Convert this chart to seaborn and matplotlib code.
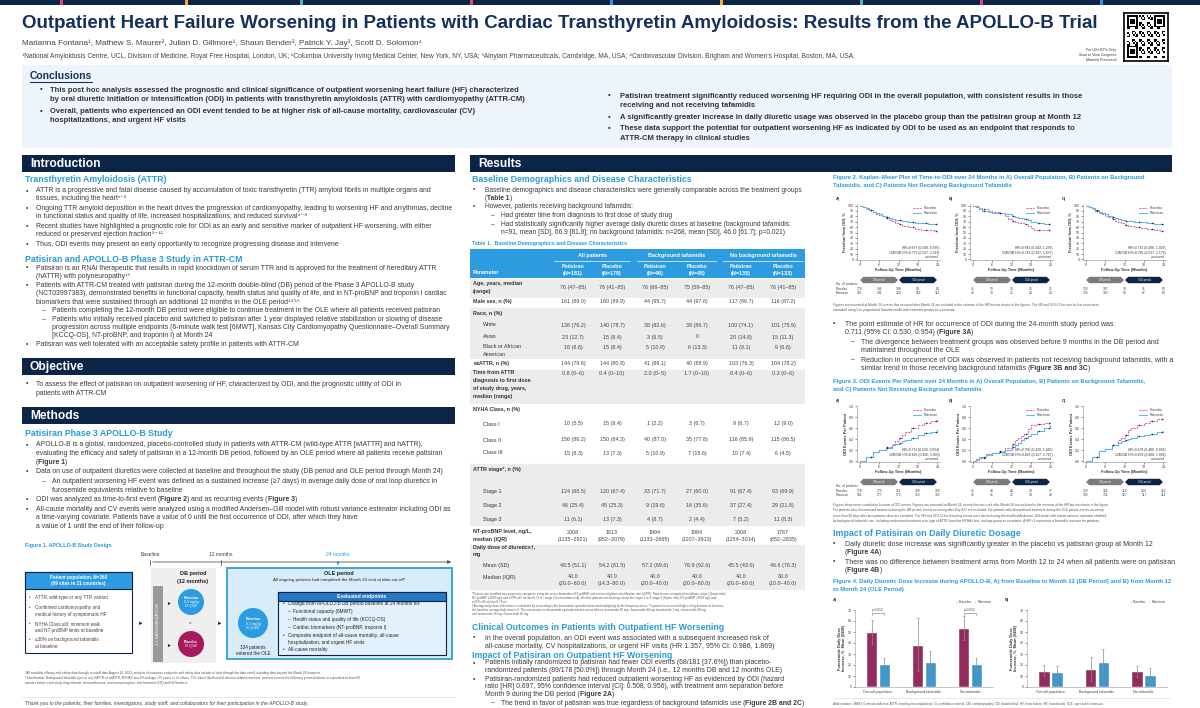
import numpy as np
import pandas as pd
import seaborn as sns
import matplotlib.pyplot as plt
from matplotlib.patches import Rectangle, Circle, Polygon
from matplotlib.lines import Line2D

sns.set_theme(style="white")
plt.rcParams['font.family'] = ['Liberation Sans', 'DejaVu Sans']

# ---------------- DATA ----------------
arms = ["Placebo", "Patisiran"]
months = [0, 6, 12, 18, 24]

# Figure 2: Kaplan-Meier, freedom from ODI (%)
km_a_t = [0, 1, 2, 3, 4, 5, 6, 7, 8, 9, 10, 11, 12, 13, 15, 17, 19, 21, 23, 24]
km_a_plc = [100, 97, 94, 91, 88, 85, 83, 80, 77, 74, 71, 68, 65, 63, 60, 57, 55, 54, 53, 53]
km_a_pat = [100, 98, 95, 92, 89, 86, 84, 81, 79, 77, 75, 74, 73, 72, 70, 68, 67, 66, 65, 65]
km_b_plc_t = [0, 1, 2, 3, 5, 6, 8, 9, 10, 11, 12, 13, 14, 16, 17, 18, 19, 21, 24]
km_b_plc = [100, 100, 95, 93, 90, 88, 87, 86, 80, 76, 72, 70, 67, 65, 62, 58, 55, 55, 55]
km_b_pat_t = [0, 1, 2, 3, 5, 6, 8, 10, 12, 13, 14, 16, 17, 18, 20, 22, 24]
km_b_pat = [100, 97, 93, 90, 88, 87, 86, 85, 80, 78, 77, 75, 73, 70, 68, 66, 65]
km_c_plc = [100, 97, 93, 90, 87, 84, 81, 78, 75, 72, 69, 67, 64, 62, 60, 58, 56, 54, 53, 52]
km_c_pat = [100, 98, 95, 92, 89, 86, 84, 81, 79, 77, 75, 73, 72, 71, 70, 69, 68, 66, 65, 65]
km_censor = [3.5, 8.5, 12.5, 16.5, 20.5, 23.5]
km_risk_a = [[178, 146, 108, 94, 84], [181, 141, 128, 119, 111]]
km_risk_b = [[45, 39, 30, 25, 21], [46, 39, 35, 32, 28]]
km_risk_c = [[133, 107, 78, 71, 63], [135, 102, 93, 87, 83]]
km_hr = [["HR=0.697 (0.508, 0.956)", "12M DB HR=0.772 (0.527, 1.113)"],
         ["HR=0.843 (0.343, 1.258)", "12M DB HR=0.742 (0.337, 1.637)"],
         ["HR=0.733 (0.496, 1.023)", "12M DB HR=0.795 (0.517, 1.179)"]]

# Figure 3: mean cumulative ODI events per patient
mcf_t = [0, 2, 4, 6, 8, 10, 11, 12, 13, 14, 16, 18, 20, 22, 24]
mcf_a_plc = [0, 0.08, 0.17, 0.21, 0.26, 0.32, 0.36, 0.42, 0.48, 0.53, 0.60, 0.65, 0.69, 0.73, 0.76]
mcf_a_pat = [0, 0.08, 0.17, 0.21, 0.25, 0.29, 0.31, 0.33, 0.36, 0.39, 0.43, 0.47, 0.51, 0.54, 0.57]
mcf_b_t = [0, 1, 2, 4, 6, 8, 10, 12, 13, 14, 15, 16, 17, 18, 20, 22, 24]
mcf_b_plc = [0, 0.03, 0.06, 0.12, 0.15, 0.18, 0.25, 0.32, 0.38, 0.42, 0.45, 0.50, 0.58, 0.66, 0.68, 0.70, 0.72]
mcf_b_pat = [0, 0.05, 0.08, 0.13, 0.15, 0.17, 0.21, 0.26, 0.30, 0.33, 0.38, 0.42, 0.45, 0.50, 0.55, 0.60, 0.65]
mcf_c_plc = [0, 0.08, 0.18, 0.23, 0.30, 0.38, 0.42, 0.48, 0.56, 0.60, 0.66, 0.70, 0.73, 0.76, 0.78]
mcf_c_pat = [0, 0.08, 0.18, 0.23, 0.29, 0.34, 0.36, 0.38, 0.40, 0.42, 0.45, 0.48, 0.50, 0.53, 0.55]
mcf_risk_a = [[178, 170, 161, 158, 150], [181, 177, 172, 163, 155]]
mcf_risk_b = [[45, 43, 42, 38, 37], [46, 46, 45, 44, 43]]
mcf_risk_c = [[133, 126, 120, 120, 113], [135, 131, 127, 117, 114]]
mcf_hr = [["HR=0.711 (0.530, 0.954)", "12M DB HR=0.666 (0.456, 1.003)"],
          ["HR=0.756 (0.420, 1.465)", "12M DB HR=0.822 (0.327, 1.767)"],
          ["HR=0.679 (0.480, 0.936)", "12M DB HR=0.603 (0.408, 1.004)"]]

# Figure 4: furosemide daily dose increase, %, mean (SEM)
dose_groups = ["Overall population", "Background tafamidis", "No tafamidis"]
dose_a_plc = [50, 38.5, 54]
dose_a_plc_sem = [11, 24, 11]
dose_a_pat = [21, 23, 20.5]
dose_a_pat_sem = [5, 10, 6]
dose_b_plc = [15, 16.5, 14.5]
dose_b_plc_sem = [5, 11, 5]
dose_b_pat = [14, 22.5, 11]
dose_b_pat_sem = [5.5, 12, 6]
p_text = "p=0.012"

# Table 1
tab_groups = ["All patients", "Background tafamidis", "No background tafamadis"]
tab_cols = ["Patisiran\n(N=181)", "Placebo\n(N=178)", "Patisiran\n(N=46)", "Placebo\n(N=45)",
            "Patisiran\n(N=135)", "Placebo\n(N=133)"]
tab_labels = ["Age, years, median\n(range)", "Male sex, n (%)", "Race, n (%)", "White", "Asian",
              "Black or African\nAmerican", "wtATTR, n (%)",
              "Time from ATTR\ndiagnosis to first dose\nof study drug, years,\nmedian (range)",
              "NYHA Class, n (%)", "Class I", "Class II", "Class III", "ATTR stage*, n (%)",
              "Stage 1", "Stage 2", "Stage 3", "NT-proBNP level, ng/L,\nmedian (IQR)",
              "Daily dose of diuretics\u2020,\nmg", "Mean (SD)", "Median (IQR)"]
tab_pat_all = ["76 (47\u201385)", "161 (89.0)", "", "138 (76.2)", "23 (12.7)", "16 (8.8)", "144 (79.6)",
               "0.8 (0\u20136)", "", "10 (5.5)", "156 (86.2)", "15 (8.3)", "", "124 (68.5)", "46 (25.4)",
               "11 (6.1)", "2008\n(1135\u20132921)", "", "48.5 (51.1)", "40.0\n(20.0\u201380.0)"]
tab_plc_all = ["76 (41\u201385)", "160 (89.9)", "", "140 (78.7)", "15 (8.4)", "15 (8.4)", "144 (80.9)",
               "0.4 (0\u201310)", "", "15 (8.4)", "150 (84.3)", "13 (7.3)", "", "120 (67.4)", "45 (25.3)",
               "13 (7.3)", "1813\n(952\u20133079)", "", "54.2 (81.5)", "40.0\n(14.3\u201380.0)"]
tab_pat_taf = ["76 (66\u201385)", "44 (95.7)", "", "38 (82.6)", "3 (6.5)", "5 (10.9)", "41 (89.1)",
               "2.0 (0\u20135)", "", "1 (2.2)", "40 (87.0)", "5 (10.9)", "", "33 (71.7)", "9 (19.6)",
               "4 (8.7)", "1994\n(1133\u20132665)", "", "57.2 (69.6)", "40.0\n(20.0\u201340.0)"]
tab_plc_taf = ["75 (59\u201385)", "44 (97.8)", "", "39 (86.7)", "0", "6 (13.3)", "40 (88.9)",
               "1.7 (0\u201310)", "", "3 (6.7)", "35 (77.8)", "7 (15.6)", "", "27 (60.0)", "16 (35.6)",
               "2 (4.4)", "1964\n(1107\u20133913)", "", "76.9 (92.6)", "40.0\n(20.0\u201380.0)"]
tab_pat_no = ["76 (47\u201385)", "117 (86.7)", "", "100 (74.1)", "20 (14.8)", "11 (8.1)", "103 (76.3)",
              "0.4 (0\u20136)", "", "9 (6.7)", "116 (85.9)", "10 (7.4)", "", "91 (67.4)", "37 (27.4)",
              "7 (5.2)", "2008\n(1154\u20133014)", "", "45.5 (43.0)", "40.0\n(20.0\u201380.0)"]
tab_plc_no = ["76 (41\u201385)", "116 (87.2)", "", "101 (75.9)", "15 (11.3)", "9 (6.8)", "104 (78.2)",
              "0.3 (0\u20136)", "", "12 (9.0)", "115 (86.5)", "6 (4.5)", "", "93 (69.9)", "29 (21.8)",
              "11 (8.3)", "1767\n(852\u20132835)", "", "46.6 (76.3)", "30.0\n(10.0\u201340.0)"]

# ---------------- STYLE ----------------
W, H = 1200, 708
NAVY = "#0c2546"
TITLE = "#15305b"
BLUE = "#2a9ad6"
BODY = "#3b3b3b"
C_PLC = "#a6195c"
C_PAT = "#2c9be0"
K_PLC = "#e36a9e"
K_PAT = "#62b8e6"
CENS = "#1c2b52"
GREY_ROW = "#ececec"

fig = plt.figure(figsize=(12, 7.08), dpi=100)
bg = fig.add_axes([0, 0, 1, 1])
bg.set_xlim(0, W)
bg.set_ylim(H, 0)
bg.axis('off')
R = fig.canvas.get_renderer()


def text_w(s, size, weight='normal'):
    t = bg.text(0, 0, s, fontsize=size, fontweight=weight)
    w = t.get_window_extent(R).width
    t.remove()
    return w


def T(x, y, s, size, color=BODY, weight='normal', ha='left', va='center', **kw):
    # "**...**" marks bold runs inside a left-aligned line
    if '**' in s:
        xc = x
        for i, part in enumerate(s.split('**')):
            if not part:
                continue
            wt = 'bold' if i % 2 else weight
            bg.text(xc, y, part, fontsize=size, color=color, fontweight=wt, ha='left', va=va, **kw)
            xc += text_w(part, size, wt)
        return None
    return bg.text(x, y, s, fontsize=size, color=color, fontweight=weight, ha=ha, va=va, **kw)


def fit(s, width, weight='normal'):
    return 10 * width / text_w(s, 10, weight)


def rect(x0, y0, x1, y1, fc, ec='none', lw=0, z=0.5):
    bg.add_patch(Rectangle((x0, y0), x1 - x0, y1 - y0, fc=fc, ec=ec, lw=lw, zorder=z))


def block(xb, xt, y, items, size, lh, gap, color=BODY, weight='normal'):
    for kind, lines in items:
        for i, ln in enumerate(lines):
            if kind == '\u2022':
                if i == 0:
                    T(xb, y, '\u2022', size, color, weight)
                T(xt, y, ln, size, color, weight)
            else:
                if i == 0:
                    T(xt + 6, y, '\u2013', size, color, weight)
                T(xt + 16, y, ln, size, color, weight)
            y += lh
        y += gap
    return y


def header_bar(x0, x1, y0, y1, label, size):
    rect(x0, y0, x1, y1, NAVY)
    T(x0 + 8, (y0 + y1) / 2 + 0.5, label, size, 'white', 'bold')


def pax(x0, y0, x1, y1):
    a = fig.add_axes([x0 / W, 1 - y1 / H, (x1 - x0) / W, (y1 - y0) / H])
    a.set_facecolor('none')
    return a


def xpx(ax, t):
    return ax.transData.transform((t, 0))[0]


# ---------------- TOP BAND / TITLE ----------------
rect(0, 0, W, 5, NAVY)
for xs, col in [(60, "#e0457b"), (185, "#f2b233"), (300, "#3fb6c8"), (470, "#e0457b"), (610, "#2a9ad6"),
                (720, "#f2b233"), (860, "#3fb6c8"), (980, "#e0457b"), (1100, "#2a9ad6")]:
    rect(xs, 0, xs + 3, 5, col)

title = "Outpatient Heart Failure Worsening in Patients with Cardiac Transthyretin Amyloidosis: Results from the APOLLO-B Trial"
T(22, 23, title, fit(title, 1076, 'bold'), TITLE, 'bold')
auth_pre = "Marianna Fontana\u00b9, Mathew S. Maurer\u00b2, Julian D. Gillmore\u00b9, Shaun Bender\u00b3, "
auth_name = "Patrick Y. Jay"
authors = auth_pre + auth_name + "\u00b3, Scott D. Solomon\u2074"
s_auth = fit(authors, 401)
T(22, 43, authors, s_auth, "#444444")
u0 = 22 + text_w(auth_pre, s_auth)
bg.plot([u0, u0 + text_w(auth_name, s_auth)], [47.5, 47.5], color="#444444", lw=0.5)
aff = ("\u00b9National Amyloidosis Centre, UCL, Division of Medicine, Royal Free Hospital, London, UK; "
       "\u00b2Columbia University Irving Medical Center, New York, NY, USA; \u00b3Alnylam Pharmaceuticals, "
       "Cambridge, MA, USA; \u2074Cardiovascular Division, Brigham and Women's Hospital, Boston, MA, USA.")
T(22, 57, aff, fit(aff, 840), "#444444")

# QR block
T(1116, 50, "For US HCPs Only", 2.6, "#333333", ha='right')
T(1116, 55, "Scan to View Congress", 2.6, "#333333", ha='right')
T(1116, 60, "Material Presented", 2.6, "#333333", ha='right')
qax = pax(1124, 13, 1168, 61)
n = 25
ii, jj = np.meshgrid(np.arange(n), np.arange(n))
qr = (((ii * 7 + jj * 3 + ii * jj) % 5) < 2).astype(float)
for (r0, c0) in [(0, 0), (0, n - 7), (n - 7, 0)]:
    qr[r0:r0 + 7, c0:c0 + 7] = 1
    qr[r0 + 1:r0 + 6, c0 + 1:c0 + 6] = 0
    qr[r0 + 2:r0 + 5, c0 + 2:c0 + 5] = 1
qax.imshow(np.pad(qr, 2), cmap='Greys', interpolation='nearest', aspect='auto')
qax.set_xticks([])
qax.set_yticks([])
for sp in qax.spines.values():
    sp.set_color('black')
    sp.set_linewidth(1.2)

# ---------------- CONCLUSIONS ----------------
rect(22, 65, 1172, 148, "#eef4fb")
s_ch = fit("Conclusions", 62, 'bold')
T(30, 76, "Conclusions", s_ch, TITLE, 'bold')
bg.plot([30, 30 + text_w("Conclusions", s_ch, 'bold')], [81.5, 81.5], color=TITLE, lw=0.8)
conc_left = [('\u2022', ["This post hoc analysis assessed the prognostic and clinical significance of outpatient worsening heart failure (HF) characterized",
                         "by oral diuretic initiation or intensification (ODI) in patients with transthyretin amyloidosis (ATTR) with cardiomyopathy (ATTR-CM)"]),
             ('\u2022', ["Overall, patients who experienced an ODI event tended to be at higher risk of all-cause mortality, cardiovascular (CV)",
                         "hospitalizations, and urgent HF visits"])]
conc_right = [('\u2022', ["Patisiran treatment significantly reduced worsening HF requiring ODI in the overall population, with consistent results in those",
                          "receiving and not receiving tafamidis"]),
              ('\u2022', ["A significantly greater increase in daily diuretic usage was observed in the placebo group than the patisiran group at Month 12"]),
              ('\u2022', ["These data support the potential for outpatient worsening HF as indicated by ODI to be used as an endpoint that responds to",
                          "ATTR-CM therapy in clinical studies"])]
s_conc = fit(conc_left[0][1][0], 465, 'bold')
block(40, 50, 90, conc_left, s_conc, 9.5, 2.5, "#333333", 'bold')
block(608, 620, 96, conc_right, s_conc, 9.5, 2.2, "#333333", 'bold')

# ---------------- LEFT COLUMN ----------------
s_head = fit("Introduction", 70, 'bold')
s_sub = fit("Transthyretin Amyloidosis (ATTR)", 141, 'bold')
intro1 = [('\u2022', ["ATTR is a progressive and fatal disease caused by accumulation of toxic transthyretin (TTR) amyloid fibrils in multiple organs and",
                      "tissues, including the heart\u00b9\u207b\u00b3"]),
          ('\u2022', ["Ongoing TTR amyloid deposition in the heart drives the progression of cardiomyopathy, leading to worsening HF and arrythmias, decline",
                      "in functional status and quality of life, increased hospitalizations, and reduced survival\u2074\u207b\u2078"]),
          ('\u2022', ["Recent studies have highlighted a prognostic role for ODI as an early and sensitive marker of outpatient HF worsening, with either",
                      "reduced or preserved ejection fraction\u2079\u207b\u00b9\u00b2"]),
          ('\u2022', ["Thus, ODI events may present an early opportunity to recognize progressing disease and intervene"])]
s_body = fit(intro1[0][1][0], 394)
header_bar(22, 455, 155, 172, "Introduction", s_head)
T(25, 180, "Transthyretin Amyloidosis (ATTR)", s_sub, BLUE, 'bold')
block(26, 36, 191, intro1, s_body, 8.0, 1.8)
T(25, 259, "Patisiran and APOLLO-B Phase 3 Study in ATTR-CM", s_sub, BLUE, 'bold')
intro2 = [('\u2022', ["Patisiran is an RNAi therapeutic that results in rapid knockdown of serum TTR and is approved for the treatment of hereditary ATTR",
                      "(hATTR) with polyneuropathy\u00b9\u00b3"]),
          ('\u2022', ["Patients with ATTR-CM treated with patisiran during the 12-month double-blind (DB) period of the Phase 3 APOLLO-B study",
                      "(NCT03997383), demonstrated benefits in functional capacity, health status and quality of life, and in NT-proBNP and troponin I cardiac",
                      "biomarkers that were sustained through an additional 12 months in the OLE period\u00b9\u2074\u02b9\u00b9\u2075"]),
          ('\u2013', ["Patients completing the 12-month DB period were eligible to continue treatment in the OLE where all patients received patisiran"]),
          ('\u2013', ["Patients who initially received placebo and switched to patisiran after 1 year displayed relative stabilization or slowing of disease",
                      "progression across multiple endpoints (6-minute walk test [6MWT], Kansas City Cardiomyopathy Questionnaire\u2013Overall Summary",
                      "[KCCQ-OS], NT-proBNP, and troponin I) at Month 24"]),
          ('\u2022', ["Patisiran was well tolerated with an acceptable safety profile in patients with ATTR-CM"])]
block(26, 36, 268, intro2, s_body, 8.3, 0.5)

header_bar(22, 455, 358, 375, "Objective", s_head)
block(26, 36, 384, [('\u2022', ["To assess the effect of patisiran on outpatient worsening of HF, characterized by ODI, and the prognostic utility of ODI in",
                                "patients with ATTR-CM"])], s_body, 9.5, 0)

header_bar(22, 455, 407, 424, "Methods", s_head)
T(25, 434, "Patisiran Phase 3 APOLLO-B Study", s_sub, BLUE, 'bold')
methods = [('\u2022', ["APOLLO-B is a global, randomized, placebo-controlled study in patients with ATTR-CM (wild-type ATTR [wtATTR] and hATTR),",
                       "evaluating the efficacy and safety of patisiran in a 12-month DB period, followed by an OLE period where all patients receive patisiran",
                       "(**Figure 1**)"]),
           ('\u2022', ["Data on use of outpatient diuretics were collected at baseline and throughout the study (DB period and OLE period through Month 24)"]),
           ('\u2013', ["An outpatient worsening HF event was defined as a sustained increase (\u22657 days) in average daily dose of oral loop diuretics in",
                       "furosemide equivalents relative to baseline"]),
           ('\u2022', ["ODI was analyzed as time-to-first event (**Figure 2**) and as recurring events (**Figure 3**)"]),
           ('\u2022', ["All-cause mortality and CV events were analyzed using a modified Andersen\u2013Gill model with robust variance estimator including ODI as",
                       "a time-varying covariate. Patients have a value of 0 until the first occurrence of ODI, after which they have",
                       "a value of 1 until the end of their follow-up"])]
block(26, 36, 445, methods, s_body, 8.6, 1.0)

# Figure 1 study design
s_tiny = 3.3
T(25, 546, "Figure 1. APOLLO-B Study Design", 3.8, BLUE, 'bold')
T(150, 555, "Baseline", s_tiny + 0.3, "#444444", ha='center')
T(221, 555, "12 months", s_tiny + 0.3, "#444444", ha='center')
T(338, 555, "24 months", s_tiny + 0.3, BLUE, ha='center')
bg.annotate("", xy=(454, 562), xytext=(150, 562), arrowprops=dict(arrowstyle='-|>', color="#555555", lw=0.6, mutation_scale=5))
for xt_ in [150, 221]:
    bg.plot([xt_, xt_], [559.5, 564.5], color="#555555", lw=0.6)
bg.annotate("", xy=(338, 568), xytext=(338, 559), arrowprops=dict(arrowstyle='-|>', color=BLUE, lw=0.6, mutation_scale=4))

rect(25, 572, 132, 653, "white", NAVY, 0.8)
rect(25, 572, 132, 589, C_PAT, NAVY, 0.8)
T(78.5, 577.5, "Patient population, N=360", s_tiny, 'white', 'bold', ha='center')
T(78.5, 584, "(69 sites in 21 countries)", s_tiny, 'white', 'bold', ha='center')
pop = [["ATTR, wild-type or any TTR variant"], ["Confirmed cardiomyopathy and", "medical history of symptomatic HF"],
       ["NYHA Class \u2264III; minimum walk", "and NT-proBNP limits at baseline"], ["\u226430% on background tafamidis", "at baseline"]]
yy = 598
for p in pop:
    T(29, yy, '\u2022', s_tiny, "#444444")
    for ln in p:
        T(35, yy, ln, s_tiny, "#444444")
        yy += 6.3
    yy += 3.5
T(141, 623, "\u25ba", 4, NAVY, ha='center')

rect(151, 568, 216, 663, "#efefef")
rect(153, 586, 163, 662, "#9a9a9a")
T(158, 624, "1:1 RANDOMIZATION", 3.0, 'white', ha='center', rotation=90)
T(193, 574, "DB period", 4.0, "#222222", 'bold', ha='center')
T(193, 581, "(12 months)", 4.0, "#222222", 'bold', ha='center')
T(168, 603, "\u25ba", 3.5, NAVY, ha='center')
T(168, 645, "\u25ba", 3.5, NAVY, ha='center')
bg.add_patch(Circle((191, 602), 13, fc=C_PAT, ec='none', zorder=1))
T(191, 598, "Patisiran", 2.6, 'white', 'bold', ha='center', zorder=2)
T(191, 602.5, "0.3 mg/kg", 2.4, 'white', ha='center', zorder=2)
T(191, 606.5, "IV Q3W", 2.4, 'white', ha='center', zorder=2)
T(191, 623.5, "or", 3.0, "#555555", ha='center')
bg.add_patch(Circle((191, 644), 13, fc=C_PLC, ec='none', zorder=1))
T(191, 642, "Placebo", 2.6, 'white', 'bold', ha='center', zorder=2)
T(191, 646.5, "IV Q3W", 2.4, 'white', ha='center', zorder=2)
T(220, 623, "\u25ba", 4, NAVY, ha='center')

rect(227, 568, 452, 659, "#d7ebf8", "#3ea3dd", 1.4)
T(339, 574, "OLE period", 4.0, "#222222", 'bold', ha='center')
T(339, 580.5, "All ongoing patients had completed the Month 24 visit at data cut-off*", 3.2, "#222222", ha='center')
bg.add_patch(Circle((253, 623), 15, fc=C_PAT, ec='none', zorder=1))
T(253, 619, "Patisiran", 2.6, 'white', 'bold', ha='center', zorder=2)
T(253, 623.5, "0.3 mg/kg", 2.4, 'white', ha='center', zorder=2)
T(253, 627.5, "IV Q3W\u2021", 2.4, 'white', ha='center', zorder=2)
T(253, 647, "334 patients", 3.3, "#222222", ha='center')
T(253, 653.5, "entered the OLE", 3.3, "#222222", ha='center')
rect(278, 592, 446, 655, "#e2f1fb", NAVY, 0.8)
rect(278, 592, 446, 601, "#2577c4", NAVY, 0.8)
T(362, 596.5, "Evaluated endpoints", 3.6, 'white', 'bold', ha='center')
ev = [('\u2022', "Change from APOLLO-B DB period baseline at 24 months for:", 604),
      ('\u2013', "Functional capacity (6MWT)", 612),
      ('\u2013', "Health status and quality of life (KCCQ-OS)", 620),
      ('\u2013', "Cardiac biomarkers (NT-proBNP, troponin I)", 628),
      ('\u2022', "Composite endpoint of all-cause mortality, all-cause", 636),
      ('', "hospitalization, and urgent HF visits", 642.5),
      ('\u2022', "All-cause mortality", 650)]
for mk, s, yv in ev:
    xo = 288 if mk == '\u2013' else 283
    if mk:
        T(xo, yv, mk, 3.4, "#222222")
    T(xo + 5, yv, s, 3.4, "#222222")

fn1 = [("*All available efficacy and safety data through to cutoff date August 14, 2023; analysis of outcomes endpoints and safety data include all data through the data cutoff, "
        "including data beyond the Month 24 timepoint."),
       ("\u2020Stratification: Background tafamidis (yes or no); hATTR vs wtATTR; NYHA Class I/II and age <75 years vs all others. \u2021To reduce likelihood of infusion-related reactions, "
        "patients receive the following premedications or equivalent at least 60"),
       "minutes before each study drug infusion: dexamethasone, oral acetaminophen, and histamine (H1) and H2 blockers."]
for k, s in enumerate(fn1):
    T(25, 673 + k * 5, s, 2.25, "#555555")
T(25, 703, "Thank you to the patients, their families, investigators, study staff, and collaborators for their participation in the APOLLO-B study.",
  3.6, "#444444", style='italic')
bg.plot([22, 455], [697, 697], color="#dddddd", lw=0.5)

# ---------------- RESULTS ----------------
header_bar(470, 1172, 155, 172, "Results", s_head)
T(472, 180, "Baseline Demographics and Disease Characteristics", s_sub, BLUE, 'bold')
res1 = [('\u2022', ["Baseline demographics and disease characteristics were generally comparable across the treatment groups",
                    "(**Table 1**)"]),
        ('\u2022', ["However, patients receiving background tafamidis:"]),
        ('\u2013', ["Had greater time from diagnosis to first dose of study drug"]),
        ('\u2013', ["Had statistically significantly higher average daily diuretic doses at baseline (background tafamidis:",
                    "n=91, mean [SD], 66.9 [81.9]; no background tafamidis: n=268, mean [SD], 46.0 [61.7]; p=0.021)"])]
s_res = fit(res1[0][1][0], 318)
block(473, 485, 190, res1, s_res, 8.2, 0.5)

# Table 1
T(472, 244, "Table 1.  Baseline Demographics and Disease Characteristics", 3.8, BLUE, 'bold')
col_x = [573, 612, 655, 697, 741, 783]
rect(470, 249, 805, 278, C_PAT)
s_tab = 3.9
for g, (a, b) in enumerate([(552, 632), (635, 718), (721, 805)]):
    T((a + b) / 2, 256, tab_groups[g], s_tab, 'white', 'bold', ha='center')
    bg.plot([a + 2, b - 2], [260.5, 260.5], color='white', lw=0.5)
for cx, lab in zip(col_x, tab_cols):
    l1, l2 = lab.split("\n")
    T(cx, 266, l1, s_tab, 'white', 'bold', ha='center')
    T(cx, 273, l2, s_tab, 'white', 'bold', ha='center')
T(473, 272, "Parameter", s_tab, 'white', 'bold')
row_y = [284, 302, 313, 325, 337, 347, 364, 373, 409, 424, 440, 453, 470, 491, 505, 519, 532, 547, 565, 577]
row_bold = [True, True, True, False, False, False, True, True, True, False, False, False, True,
            False, False, False, True, True, False, False]
for (a, b) in [(279, 297.5), (307, 358.5), (369, 403.5), (463, 526), (544, 590)]:
    rect(470, a, 805, b, GREY_ROW)
for y0 in [297.5, 307, 358.5, 369, 403.5, 463, 526, 544]:
    bg.plot([470, 805], [y0, y0], color='white', lw=0.6, zorder=0.6)
cols = [tab_pat_all, tab_plc_all, tab_pat_taf, tab_plc_taf, tab_pat_no, tab_plc_no]
for r, (lab, yv, bd) in enumerate(zip(tab_labels, row_y, row_bold)):
    xl = 473 if bd else 483
    for k, ln in enumerate(lab.split("\n")):
        T(xl, yv + k * 7.8, ln, s_tab, "#333333", 'bold' if bd else 'normal')
    for cx, col in zip(col_x, cols):
        if col[r]:
            for k, ln in enumerate(col[r].split("\n")):
                T(cx, yv + (3 if r == 0 else 0) + k * 7, ln, s_tab, "#444444", ha='center')
fn2 = ["*Patients are stratified into prognostic categories using the serum biomarkers NT-proBNP and estimated glomerular filtration rate (eGFR). Patients are categorized as follows: stage 1 (lower risk):",
       "NT-proBNP \u22643000 ng/L and eGFR \u226545 mL/min/1.73 m\u00b2; stage 2 (intermediate risk): all other patients not meeting criteria for stages 1 or 3; stage 3 (higher risk): NT-proBNP >3000 ng/L and",
       "eGFR <45 mL/min/1.73 m\u00b2.",
       "\u2020Average daily dose of diuretics is calculated by converting to the furosemide equivalent dose and multiplying by the frequency of use. If a patient is on no oral high-ceiling diuretics at baseline,",
       "the baseline average daily dose is 0. The conversions to furosemide equivalent doses are as follows: azosemide 60 mg = furosemide 40 mg; bumetanide 1 mg = furosemide 40 mg;",
       "and torasemide 20 mg = furosemide 40 mg."]
for k, s in enumerate(fn2):
    T(472, 594 + k * 4.1, s, 2.1, "#555555")

T(472, 627, "Clinical Outcomes in Patients with Outpatient HF Worsening", s_sub, BLUE, 'bold')
block(473, 485, 638, [('\u2022', ["In the overall population, an ODI event was associated with a subsequent increased risk of",
                                  "all-cause mortality, CV hospitalizations, or urgent HF visits (HR 1.357, 95% CI: 0.986, 1.869)"])],
      s_res * 1.05, 8.2, 0)
T(472, 655, "Impact of Patisiran on Outpatient HF Worsening", s_sub, BLUE, 'bold')
imp = [('\u2022', ["Patients initially randomized to patisiran had fewer ODI events (68/181 [37.6%]) than placebo-",
                   "randomized patients (89/178 [50.0%]) through Month 24 (i.e., 12 months DB and 12 months OLE)"]),
       ('\u2022', ["Patisiran-randomized patients had reduced outpatient worsening HF as evidenced by ODI (hazard",
                   "ratio [HR] 0.697, 95% confidence interval [CI]: 0.508, 0.956), with treatment arm separation before",
                   "Month 9 during the DB period (**Figure 2A**)"]),
       ('\u2013', ["The trend in favor of patisiran was true regardless of background tafamidis use (**Figure 2B and 2C**)"])]
block(473, 485, 663, imp, s_res * 1.03, 7.8, 0.6)

# ---------------- RIGHT COLUMN: FIGURES ----------------
s_fig = fit("Figure 2. Kaplan\u2013Meier Plot of Time-to-ODI over 24 Months in A) Overall Population, B) Patients on Background", 314, 'bold')
T(833, 178, "Figure 2. Kaplan\u2013Meier Plot of Time-to-ODI over 24 Months in A) Overall Population, B) Patients on Background", s_fig, BLUE, 'bold')
T(833, 185.5, "Tafamidis, and C) Patients Not Receiving Background Tafamidis", s_fig, BLUE, 'bold')

panel_x = [(857, 940), (970, 1053), (1083, 1166)]
pal = {"Placebo": K_PLC, "Patisiran": K_PAT}


def step_val(ts, vs, c):
    idx = np.searchsorted(ts, c, side='right') - 1
    return vs[idx]


def arrows(ax, yc):
    for (t0, t1, col, lab) in [(0, 12, "#7b7b7b", "DB period"), (12, 24, NAVY, "OLE period")]:
        x0, x1 = xpx(ax, t0) + 0.5, xpx(ax, t1) - 0.5
        h = 3.2
        bg.add_patch(Polygon([(x0, yc), (x0 + h, yc - h), (x1 - h, yc - h), (x1, yc), (x1 - h, yc + h), (x0 + h, yc + h)],
                             closed=True, fc=col, ec='none', zorder=1))
        T((x0 + x1) / 2, yc, lab, 1.8, 'white', ha='center', zorder=2)


def risk_rows(ax, risk, y0, first):
    if first:
        T(836, y0 - 4.5, "No. of patients", 2.4, "#444444")
        T(836, y0, "Placebo", 2.4, "#444444")
        T(836, y0 + 4.5, "Patisiran", 2.4, "#444444")
    for k, rr in enumerate(risk):
        for t, v in zip(months, rr):
            T(xpx(ax, t), y0 + 4.5 * k, str(v), 2.4, "#444444", ha='center')


def curve_panel(ax, curves, hr, ylim, yticks, ylabel, letter, risk, first, y_arrow, y_risk, ylab_fmt):
    frames = []
    for arm, (ts, vs) in zip(arms, curves):
        frames.append(pd.DataFrame({"t": ts, "v": vs, "arm": arm}))
    df = pd.concat(frames, ignore_index=True)
    ax.set_xlim(-0.8, 24.8)
    ax.set_ylim(*ylim)
    sns.lineplot(data=df, x="t", y="v", hue="arm", palette=pal, drawstyle='steps-post', estimator=None,
                 lw=0.8, ax=ax, legend=False)
    ax.lines[0].set_dashes([2, 1])
    for arm, (ts, vs) in zip(arms, curves):
        cv = [step_val(ts, vs, c) for c in km_censor]
        ax.scatter(km_censor, cv, s=1.2, color=CENS, zorder=5, linewidths=0)
    ax.set_xticks(months)
    ax.set_yticks(yticks)
    ax.set_yticklabels([ylab_fmt(v) for v in yticks])
    ax.tick_params(labelsize=2.6, length=1.2, width=0.4, pad=0.8, colors="#444444", left=True, bottom=True)
    for sp in ['top', 'right']:
        ax.spines[sp].set_visible(False)
    for sp in ['left', 'bottom']:
        ax.spines[sp].set_color("#888888")
        ax.spines[sp].set_linewidth(0.4)
    ax.set_xlabel("Follow-Up Time (Months)", fontsize=2.8, fontweight='bold', labelpad=1, color="#333333")
    ax.set_ylabel(ylabel, fontsize=2.8, fontweight='bold', labelpad=1, color="#333333")
    ax.legend(handles=[Line2D([], [], color=K_PLC, lw=0.8, dashes=[2, 1]), Line2D([], [], color=K_PAT, lw=0.8)],
              labels=arms, loc='upper right', fontsize=2.6, frameon=False, handlelength=2.2, borderaxespad=0.2,
              labelspacing=0.3, labelcolor="#444444")
    ax.text(0.99, 0.21, hr[0], transform=ax.transAxes, ha='right', va='center', fontsize=2.4, color="#333333")
    ax.text(0.99, 0.13, hr[1], transform=ax.transAxes, ha='right', va='center', fontsize=2.4, color="#333333")
    ax.text(0.99, 0.05, "+censored", transform=ax.transAxes, ha='right', va='center', fontsize=2.1, color="#333333")
    bb = ax.get_position()
    T(bb.x0 * W - 21, (1 - bb.y1) * H - 5, letter, 2.8, "#333333", 'bold')
    arrows(ax, y_arrow)
    risk_rows(ax, risk, y_risk, first)


km_sets = [([(km_a_t, km_a_plc), (km_a_t, km_a_pat)], km_risk_a),
           ([(km_b_plc_t, km_b_plc), (km_b_pat_t, km_b_pat)], km_risk_b),
           ([(km_a_t, km_c_plc), (km_a_t, km_c_pat)], km_risk_c)]
for k, ((x0, x1), (curves, risk)) in enumerate(zip(panel_x, km_sets)):
    ax = pax(x0, 204, x1, 260)
    curve_panel(ax, curves, km_hr[k], (-1, 103), list(range(0, 101, 10)), "Freedom from ODI, %", "ABC"[k] + ")",
                risk, k == 0, 280, 288.5, lambda v: f"{v:d}")

cap2 = ["Figures are truncated at Month 24; events that occurred after Month 24 are included in the estimate of the HR but not shown in the figures. The HR and 95% CI for time-to-first event were",
        "estimated using Cox proportional hazards model with treatment groups as a covariate."]
for k, s in enumerate(cap2):
    T(833, 305 + k * 5, s, 2.3, "#555555")

s_right = fit("The point estimate of HR for occurrence of ODI during the 24-month study period was", 265)
r1 = [('\u2022', ["The point estimate of HR for occurrence of ODI during the 24-month study period was",
                  "0.711 (95% CI: 0.530, 0.954) (**Figure 3A**)"]),
      ('\u2013', ["The divergence between treatment groups was observed before 9 months in the DB period and",
                  "maintained throughout the OLE"]),
      ('\u2013', ["Reduction in occurrence of ODI was observed in patients not receiving background tafamidis, with a",
                  "similar trend in those receiving background tafamidis (**Figure 3B and 3C**)"])]
block(833, 845, 324, r1, s_right, 8.0, 2.0)

T(833, 382, "Figure 3. ODI Events Per Patient over 24 Months in A) Overall Population, B) Patients on Background Tafamidis,", s_fig, BLUE, 'bold')
T(833, 389.5, "and C) Patients Not Receiving Background Tafamidis", s_fig, BLUE, 'bold')
mcf_sets = [([(mcf_t, mcf_a_plc), (mcf_t, mcf_a_pat)], mcf_risk_a),
            ([(mcf_b_t, mcf_b_plc), (mcf_b_t, mcf_b_pat)], mcf_risk_b),
            ([(mcf_t, mcf_c_plc), (mcf_t, mcf_c_pat)], mcf_risk_c)]
for k, ((x0, x1), (curves, risk)) in enumerate(zip(panel_x, mcf_sets)):
    ax = pax(x0, 406, x1, 462)
    curve_panel(ax, curves, mcf_hr[k], (-0.01, 1.0), [0, 0.2, 0.4, 0.6, 0.8, 1.0], "ODI Events Per Patient",
                "ABC"[k] + ")", risk, k == 0, 482, 491, lambda v: f"{v:.1f}")

cap3 = ["Figures show mean cumulative function of ODI events. Figures are truncated at Month 24; events that occurred after Month 24 are included in the estimate of the HR but not shown in the figure.",
        "For patients who discontinued treatment during the DB period, events occurring after Day 417 are excluded. For patients who discontinued treatment during the OLE period, events occurring",
        "more than 90 days after last patisiran dose are excluded. The HR and 95% CI for recurring events were derived using the modified Andersen\u2013Gill model with robust variance estimator stratified",
        "by background tafamidis use, including randomized treatment arm, type of ATTR, baseline NYHA class, and age group as covariates. A HR <1 represents a favorable outcome for patisiran."]
for k, s in enumerate(cap3):
    T(833, 505 + k * 5.3, s, 2.3, "#555555")

s_sub2 = fit("Impact of Patisiran on Daily Diuretic Dosage", 186, 'bold')
T(833, 533, "Impact of Patisiran on Daily Diuretic Dosage", s_sub2, BLUE, 'bold')
r2 = [('\u2022', ["Daily diuretic dose increase was significantly greater in the placebo vs patisiran group at Month 12",
                  "(**Figure 4A**)"]),
      ('\u2022', ["There was no difference between treatment arms from Month 12 to 24 when all patients were on patisiran",
                  "(**Figure 4B**)"])]
block(833, 845, 544, r2, s_right, 8.0, 2.0)
T(833, 582, "Figure 4. Daily Diuretic Dose Increase during APOLLO-B, A) from Baseline to Month 12 (DB Period) and B) from Month 12", s_fig, BLUE, 'bold')
T(833, 589.5, "to Month 24 (OLE Period)", s_fig, BLUE, 'bold')

bar_sets = [(dose_a_plc, dose_a_plc_sem, dose_a_pat, dose_a_pat_sem, [0, 2]),
            (dose_b_plc, dose_b_plc_sem, dose_b_pat, dose_b_pat_sem, [])]
for k, ((x0, x1), (plc, plc_e, pat, pat_e, brk)) in enumerate(zip([(855, 993), (1027, 1167)], bar_sets)):
    ax = pax(x0, 610, x1, 687)
    df = pd.DataFrame({"group": dose_groups * 2, "arm": ["Placebo"] * 3 + ["Patisiran"] * 3, "val": plc + pat})
    sns.barplot(data=df, x="group", y="val", hue="arm", palette={"Placebo": C_PLC, "Patisiran": C_PAT},
                width=0.55, gap=0.1, errorbar=None, legend=False, ax=ax)
    centers = []
    for cont, err in zip(ax.containers, [plc_e, pat_e]):
        xs = [p.get_x() + p.get_width() / 2 for p in cont]
        hs = [p.get_height() for p in cont]
        centers.append(xs)
        ax.errorbar(xs, hs, yerr=err, fmt='none', ecolor="#8c8c8c", elinewidth=0.5, capsize=0.8, capthick=0.5)
    for g in brk:
        xa, xb = centers[0][g], centers[1][g]
        ax.plot([xa, xa, xb, xb], [65.5, 67, 67, 65.5], color="#777777", lw=0.4)
        ax.text((xa + xb) / 2, 68, p_text, ha='center', va='bottom', fontsize=2.3, color="#444444")
    ax.set_ylim(0, 70)
    ax.set_xlim(-0.5, 2.5)
    ax.set_yticks(range(0, 71, 10))
    ax.tick_params(labelsize=2.6, length=1.2, width=0.4, pad=0.8, colors="#444444", left=True, bottom=False)
    for sp in ['top', 'right']:
        ax.spines[sp].set_visible(False)
    for sp in ['left', 'bottom']:
        ax.spines[sp].set_color("#999999")
        ax.spines[sp].set_linewidth(0.4)
    ax.set_xlabel("")
    ax.set_ylabel("Furosemide Daily Dose\nIncrease, %, Mean (SEM)", fontsize=2.8, fontweight='bold', labelpad=1.5,
                  color="#333333", linespacing=1.1)
    ax.legend(handles=[Rectangle((0, 0), 1, 1, fc=C_PLC), Rectangle((0, 0), 1, 1, fc=C_PAT)], labels=arms,
              loc='lower right', bbox_to_anchor=(1.0, 1.06), ncol=2, fontsize=2.6, frameon=False, handlelength=0.6,
              handleheight=0.6, handletextpad=0.3, columnspacing=0.6, borderaxespad=0, labelcolor="#444444")
    bb = ax.get_position()
    T(bb.x0 * W - 22, (1 - bb.y1) * H - 10, "AB"[k] + ")", 2.8, "#333333", 'bold')

bg.plot([833, 1170], [698, 698], color="#dddddd", lw=0.5)
T(833, 704, "Abbreviations: 6MWT, 6-minute walk test; ATTR, transthyretin amyloidosis; CI, confidence interval; CM, cardiomyopathy; DB, double-blind; HF, heart failure; HR, hazard ratio; OLE, open-label extension.",
  2.2, "#555555")

fig.savefig("out.png", dpi=100)
